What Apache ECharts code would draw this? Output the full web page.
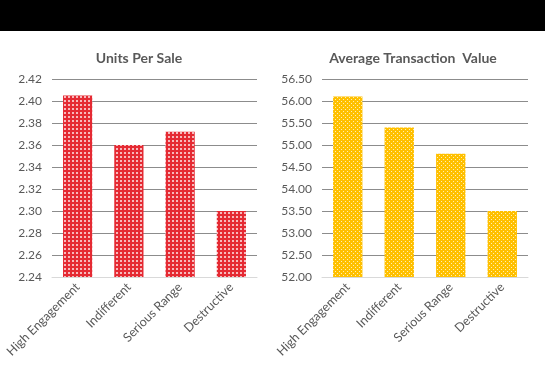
<!DOCTYPE html>
<html><head><meta charset="utf-8">
<script src="https://cdn.jsdelivr.net/npm/echarts@6/dist/echarts.min.js"></script>
<style>html,body{margin:0;padding:0;background:#fff}#c{width:545px;height:373px}</style>
</head><body><div id="c"></div>
<script>
const categories = ['High Engagement', 'Indifferent', 'Serious Range', 'Destructive'];
const unitsPerSale = [2.405, 2.360, 2.372, 2.300];
const avgTransactionValue = [56.10, 55.40, 54.80, 53.50];
const titles = ['Units Per Sale', 'Average Transaction  Value'];

function makePattern(base, fn, size, cell, white) {
  const c = document.createElement('canvas');
  c.width = size * cell; c.height = size * cell;
  const g = c.getContext('2d');
  g.fillStyle = base; g.fillRect(0, 0, c.width, c.height);
  g.fillStyle = white;
  for (let y = 0; y < size; y++) for (let x = 0; x < size; x++) if (fn(x, y)) g.fillRect(x * cell, y * cell, cell, cell);
  return { image: c, repeat: 'repeat' };
}
const redPat = makePattern('#E52A33', (x, y) => (x + y) % 2 === 0 && x % 2 === 0, 4, 2, '#F7B9BC');
const yellowPat = makePattern('#FFC000', (x, y) => (x % 4 === 1 && y % 4 === 1) || (x % 4 === 3 && y % 4 === 3), 4, 1, 'rgba(255,240,180,1)');

const font = 'Lato, "Open Sans", sans-serif';
const chart = echarts.init(document.getElementById('c'));
function yAxis(gi, min, max, interval) {
  return {
    type: 'value', gridIndex: gi, min, max, interval,
    axisLine: { show: false }, axisTick: { show: false },
    splitLine: { lineStyle: { color: '#8c8c8c', width: 1 } },
    axisLabel: { color: '#595959', fontSize: 12, fontFamily: font, margin: 10,
      formatter: v => v.toFixed(2) }
  };
}
function xAxis(gi) {
  return {
    type: 'category', gridIndex: gi, data: categories,
    axisLine: { lineStyle: { color: '#d9d9d9' } }, axisTick: { show: false },
    axisLabel: { color: '#595959', fontSize: 12.5, fontFamily: font, rotate: 45, margin: 8, interval: 0 }
  };
}
chart.setOption({
  animation: false,
  graphic: [{ type: 'rect', shape: { x: 0, y: 0, width: 545, height: 31 }, style: { fill: '#000' } }],
  title: [
    { text: titles[0], left: 134, top: 46, textAlign: 'center',
      textStyle: { color: '#595959', fontSize: 14, fontWeight: 'bold', fontFamily: font } },
    { text: titles[1], left: 408, top: 46, textAlign: 'center',
      textStyle: { color: '#595959', fontSize: 14, fontWeight: 'bold', fontFamily: font } }
  ],
  grid: [
    { left: 52, right: 288, top: 79, bottom: 96 },
    { left: 322, right: 17, top: 79, bottom: 96 }
  ],
  xAxis: [xAxis(0), xAxis(1)],
  yAxis: [yAxis(0, 2.24, 2.42, 0.02), yAxis(1, 52, 56.5, 0.5)],
  series: [
    { type: 'bar', xAxisIndex: 0, yAxisIndex: 0, data: unitsPerSale, barWidth: '57%',
      itemStyle: { color: redPat } },
    { type: 'bar', xAxisIndex: 1, yAxisIndex: 1, data: avgTransactionValue, barWidth: '57%',
      itemStyle: { color: yellowPat } }
  ]
});
</script></body></html>
